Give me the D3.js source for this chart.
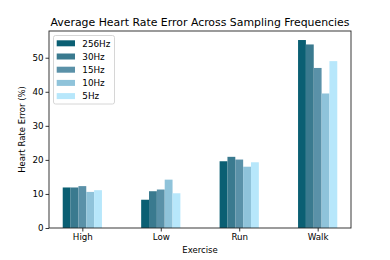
<!DOCTYPE html>
<html><head><meta charset="utf-8">
<script src="https://cdn.jsdelivr.net/npm/d3@7"></script>
<style>body{margin:0;background:#fff}svg{display:block;font-family:"DejaVu Sans",sans-serif}</style>
</head><body>
<svg id="c" width="390" height="260"></svg>
<script>
const categories = ["High", "Low", "Run", "Walk"];
const seriesNames = ["256Hz", "30Hz", "15Hz", "10Hz", "5Hz"];
const v256 = [11.9, 8.3, 19.6, 55.2];
const v30  = [11.9, 10.8, 20.9, 53.9];
const v15  = [12.3, 11.3, 20.1, 47.0];
const v10  = [10.6, 14.2, 18.0, 39.5];
const v5   = [11.1, 10.2, 19.3, 49.0];
const yTicks = [0, 10, 20, 30, 40, 50];
const colors = ["#0a5f73", "#3a7a8f", "#5a91a8", "#8fc3da", "#b7e7fb"];
const series = [v256, v30, v15, v10, v5];

const svg = d3.select("#c");
const L = 49, R = 351, T = 31, B = 228;
const x = d3.scaleLinear().domain([-0.425, categories.length - 1 + 0.425]).range([L, R]);
const y = d3.scaleLinear().domain([0, 57.85]).range([B, T]);
const bw = 0.1;

series.forEach((vals, s) => {
  svg.append("g").selectAll("rect").data(vals).join("rect")
    .attr("x", (d, i) => x(i - 0.25 + s * bw))
    .attr("width", x(bw) - x(0))
    .attr("y", d => y(d))
    .attr("height", d => y(0) - y(d))
    .attr("fill", colors[s]);
});

const xa = svg.append("g").attr("transform", `translate(0,${B})`)
  .call(d3.axisBottom(x).tickValues(categories.map((c, i) => i)).tickFormat(i => categories[i]).tickSize(3.5).tickPadding(2));
const ya = svg.append("g").attr("transform", `translate(${L},0)`)
  .call(d3.axisLeft(y).tickValues(yTicks).tickSize(3.5).tickPadding(2));
[xa, ya].forEach(a => {
  a.select(".domain").remove();
  a.selectAll("text").attr("font-size", 8.7).attr("fill", "#000").attr("font-family", "DejaVu Sans");
  a.selectAll("line").attr("stroke", "#000").attr("stroke-width", 0.8);
});

svg.append("rect").attr("x", L).attr("y", T).attr("width", R - L).attr("height", B - T)
  .attr("fill", "none").attr("stroke", "#222").attr("stroke-width", 0.9);

svg.append("text").attr("x", (L + R) / 2).attr("y", 26).attr("text-anchor", "middle")
  .attr("font-size", 10.9).text("Average Heart Rate Error Across Sampling Frequencies");
svg.append("text").attr("x", (L + R) / 2).attr("y", 253).attr("text-anchor", "middle")
  .attr("font-size", 8.5).text("Exercise");
svg.append("text").attr("transform", `translate(25,${(T + B) / 2}) rotate(-90)`).attr("text-anchor", "middle")
  .attr("font-size", 8.5).text("Heart Rate Error (%)");

const lg = svg.append("g");
lg.append("rect").attr("x", 53.5).attr("y", 35.5).attr("width", 61).attr("height", 68.5).attr("rx", 2)
  .attr("fill", "#fff").attr("fill-opacity", 0.8).attr("stroke", "#ccc").attr("stroke-width", 0.8);
seriesNames.forEach((n, i) => {
  const cy = 43.3 + i * 13.2;
  lg.append("rect").attr("x", 56.7).attr("y", cy - 3).attr("width", 18.3).attr("height", 6).attr("fill", colors[i]);
  lg.append("text").attr("x", 82.3).attr("y", cy + 3.2).attr("font-size", 8.8).text(n);
});
</script>
</body></html>
